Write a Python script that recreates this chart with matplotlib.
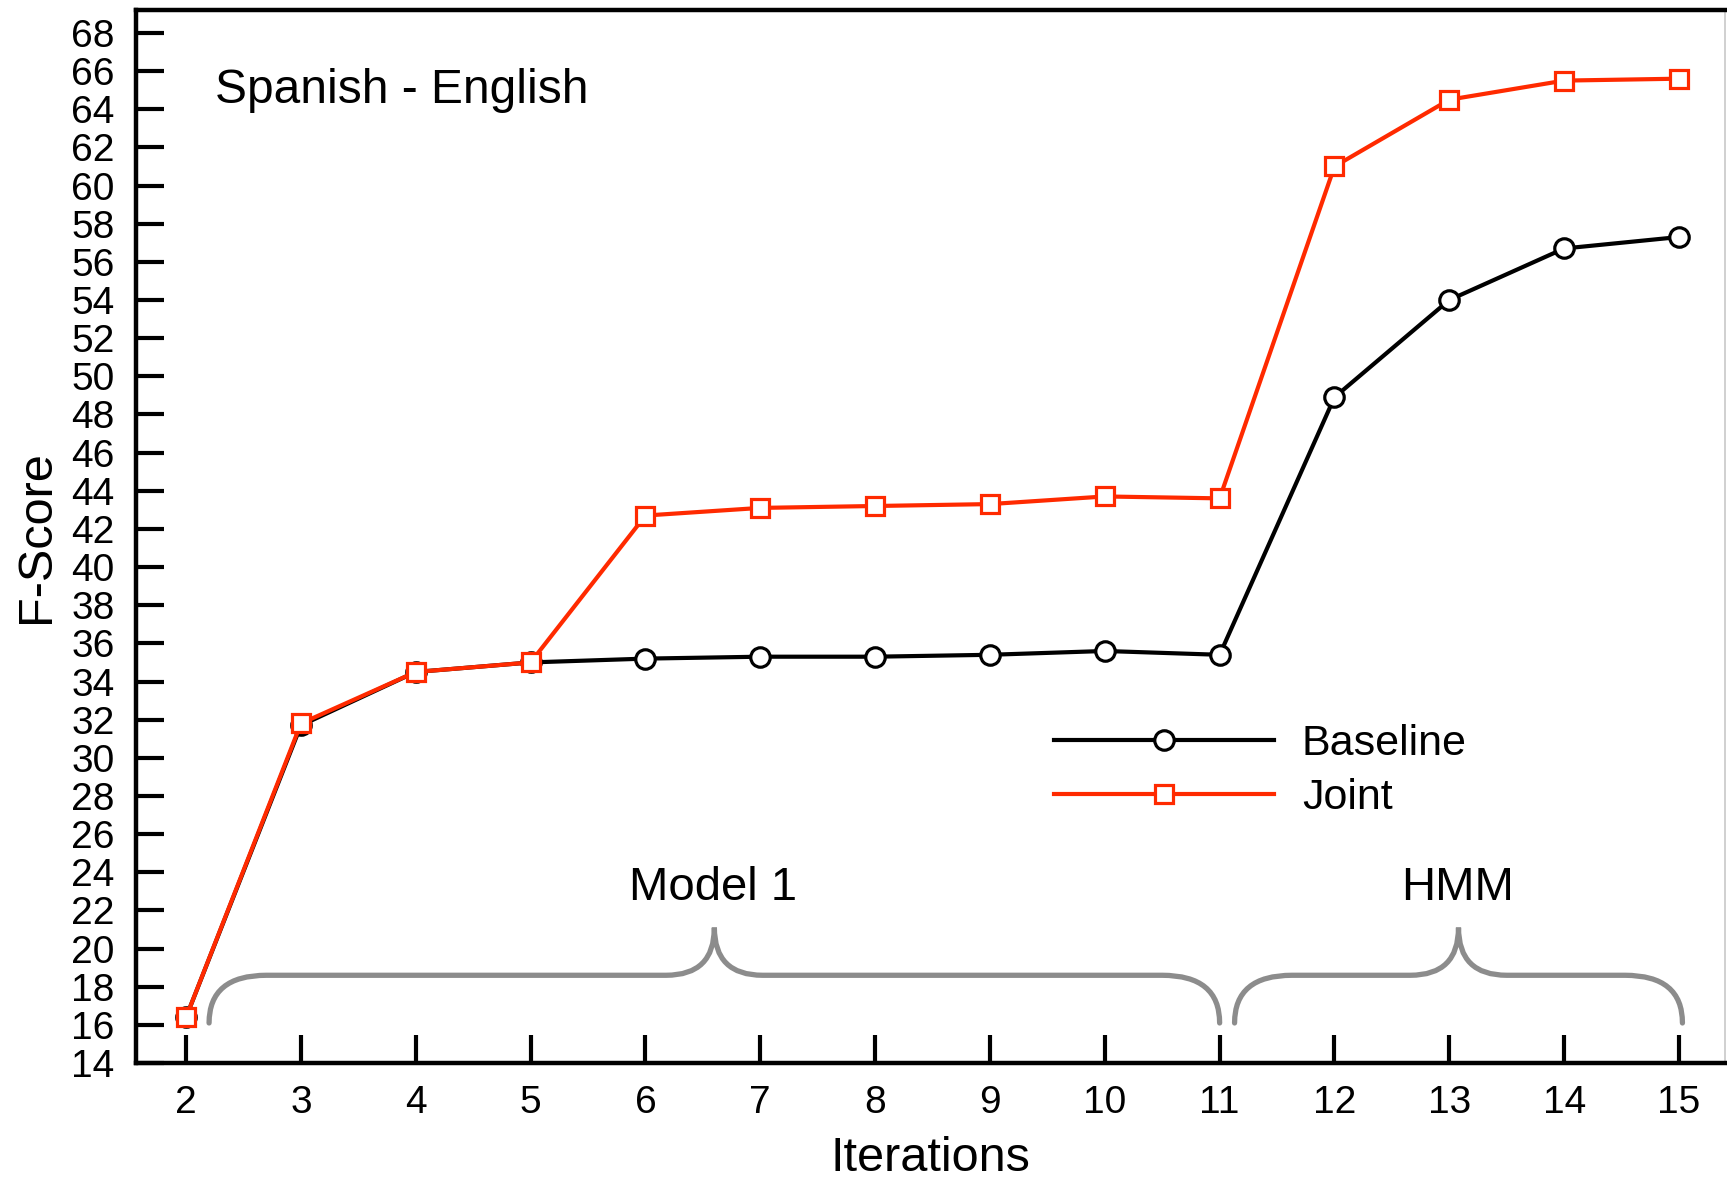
import matplotlib
matplotlib.use("Agg")
import matplotlib.pyplot as plt
from matplotlib.path import Path
from matplotlib.patches import PathPatch

plt.rcParams['font.family'] = ['Liberation Sans', 'DejaVu Sans']

# Data
iterations = [2, 3, 4, 5, 6, 7, 8, 9, 10, 11, 12, 13, 14, 15]
baseline = [16.4, 31.7, 34.5, 35.0, 35.2, 35.3, 35.3, 35.4, 35.6, 35.4, 48.9, 54.0, 56.7, 57.3]
joint = [16.4, 31.8, 34.5, 35.0, 42.7, 43.1, 43.2, 43.3, 43.7, 43.6, 61.0, 64.5, 65.5, 65.6]
y_ticks = list(range(14, 69, 2))

# Phase annotations: (label, first iteration, last iteration)
phases = [("Model 1", 2.2, 11.0), ("HMM", 11.13, 15.03)]

fig = plt.figure(figsize=(17.27, 11.78), dpi=100)
ax = fig.add_axes([0.0785, 0.0976, 0.9203, 0.8939])

ax.plot(iterations, baseline, color='black', lw=3.0, marker='o', ms=14,
        mfc='white', mec='black', mew=2.3, label='Baseline', zorder=3)
ax.plot(iterations, joint, color='#ff2a00', lw=3.0, marker='s', ms=12.5,
        mfc='white', mec='#ff2a00', mew=2.3, label='Joint', zorder=4)

ax.set_xlim(1.56, 15.40)
ax.set_ylim(14, 69.2)
ax.set_xticks(iterations)
ax.set_yticks(y_ticks)

ax.tick_params(axis='both', direction='in', length=20, width=3, labelsize=28,
               color='black')
ax.tick_params(axis='x', pad=16)
ax.tick_params(axis='y', pad=15)

for side in ['left', 'bottom', 'top']:
    ax.spines[side].set_linewidth(3.2)
    ax.spines[side].set_color('black')
ax.spines['right'].set_linewidth(1.2)
ax.spines['right'].set_color('#c8c8c8')

ax.set_ylabel("F-Score", fontsize=35)
ax.yaxis.label.set_verticalalignment('center')
ax.yaxis.set_label_coords(-0.0626, 0.5)
ax.set_xlabel("Iterations", fontsize=35)
ax.xaxis.label.set_verticalalignment('center')
ax.xaxis.set_label_coords(0.5, -0.091)

ax.text(2.25, 65.0, "Spanish - English", fontsize=34.5, ha='left', va='center')

# curly braces under each phase
ybot, yflat, ytip = 16.1, 18.6, 21.1
rx, rc = 0.5, 0.42
for label, x0, x1 in phases:
    xm = (x0 + x1) / 2
    verts = [(x0, ybot), (x0, yflat), (x0 + rx, yflat),
             (xm - rc, yflat), (xm, yflat), (xm, ytip),
             (xm, yflat), (xm + rc, yflat),
             (x1 - rx, yflat), (x1, yflat), (x1, ybot)]
    codes = [Path.MOVETO, Path.CURVE3, Path.CURVE3,
             Path.LINETO, Path.CURVE3, Path.CURVE3,
             Path.CURVE3, Path.CURVE3,
             Path.LINETO, Path.CURVE3, Path.CURVE3]
    ax.add_patch(PathPatch(Path(verts, codes), fill=False, ec='#8c8c8c',
                           lw=3.8, capstyle='round', zorder=2))
    ax.text(xm - 0.01, 23.2, label, fontsize=34, ha='center', va='center')

ax.legend(loc='upper left', bbox_to_anchor=(0.578, 0.322), frameon=False,
          fontsize=31, handlelength=5.1, handletextpad=0.65, labelspacing=0.32,
          numpoints=1, borderpad=0, borderaxespad=0)

fig.savefig("out.png", dpi=100)
